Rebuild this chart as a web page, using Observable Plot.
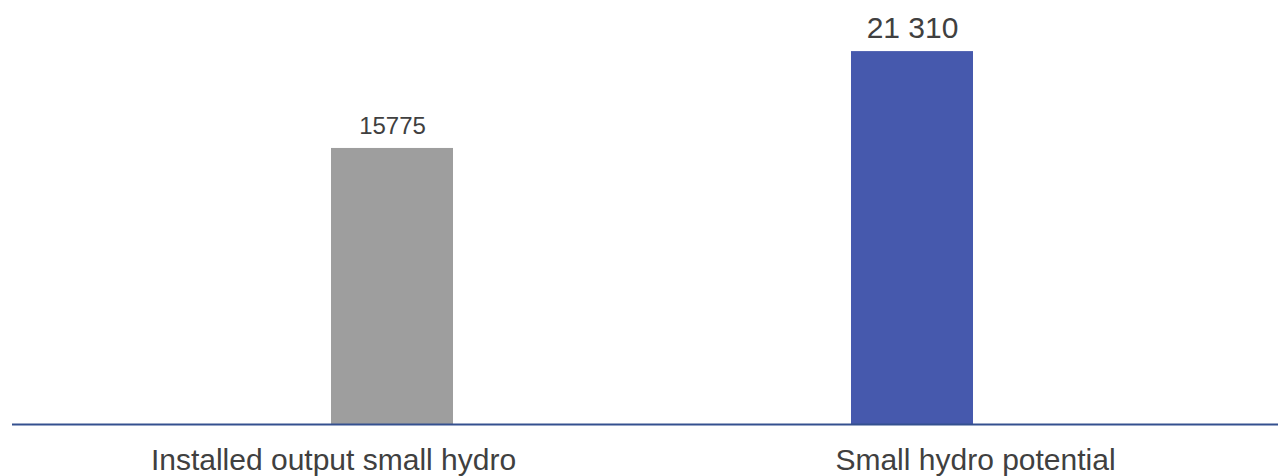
<!DOCTYPE html>
<html>
<head>
<meta charset="utf-8">
<script src="https://cdn.jsdelivr.net/npm/d3@7"></script>
<script src="https://cdn.jsdelivr.net/npm/@observablehq/plot@0.6"></script>
<style>
  html, body { margin: 0; padding: 0; background: #ffffff; overflow: hidden; }
  #chart { width: 1278px; height: 476px; }
</style>
</head>
<body>
<div id="chart"></div>
<script>
// Small hydro: installed output vs. potential
const categories = ["Installed output small hydro", "Small hydro potential"];
const series = ["potential", "installed"];          // slot order within each category cluster
const barSeries = ["installed", "potential"];        // which series each category's bar belongs to
const values = [15775, 21310];
const valueLabels = ["15775", "21 310"];
const labelSizes = [24, 30];
const colors = {installed: "#9e9e9e", potential: "#4659ad"};

const data = categories.map((c, i) => ({
  category: c,
  series: barSeries[i],
  value: values[i],
  label: valueLabels[i],
  size: labelSizes[i]
}));

const chart = Plot.plot({
  width: 1278,
  height: 476,
  marginLeft: 11,
  marginRight: -18,
  marginTop: 0,
  marginBottom: 52,
  style: {
    fontFamily: "'Liberation Sans', Arial, sans-serif",
    fontSize: "30px",
    color: "#404040",
    background: "#ffffff"
  },
  fx: {
    domain: categories,
    padding: 0,
    axis: "bottom",
    tickSize: 0,
    tickPadding: 24,
    label: null
  },
  x: {domain: series, paddingInner: 0, paddingOuter: 1.62, align: 0.495, axis: null},
  y: {domain: [0, 24230], axis: null},
  color: {domain: Object.keys(colors), range: Object.values(colors)},
  marks: [
    Plot.barY(data, {fx: "category", x: "series", y: "value", fill: d => colors[d.series]}),
    Plot.text(data, {
      fx: "category", x: "series", y: "value", text: "label",
      fontSize: "size", lineAnchor: "bottom", dy: -14, fill: "#404040"
    }),
    Plot.ruleY([0], {stroke: "#34508f", strokeWidth: 2})
  ]
});

document.getElementById("chart").appendChild(chart);
</script>
</body>
</html>
